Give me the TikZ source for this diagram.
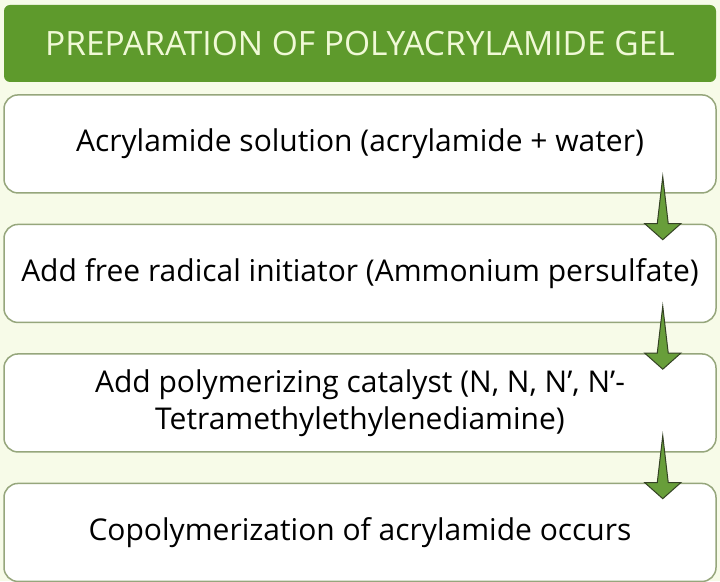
\documentclass[tikz,border=0pt]{standalone}
\usepackage{fontspec}
\setmainfont{Open Sans}
\usetikzlibrary{positioning,calc}
\definecolor{bar-green}{RGB}{94,154,44}
\definecolor{page-cream}{RGB}{247,251,232}
\definecolor{box-edge}{RGB}{150,166,124}
\definecolor{title-cream}{RGB}{240,249,214}
\definecolor{arrow-green}{RGB}{104,158,58}
\definecolor{arrow-edge}{RGB}{52,66,36}
\tikzset{
    title-bar/.style = {fill=bar-green, rounded corners=6pt, minimum width=712pt, minimum height=77pt, text=title-cream, font=\fontsize{33.5}{40}\selectfont},
    step-box/.style = {draw=box-edge, fill=white, line width=1.5pt, rounded corners=14pt, minimum width=712pt, minimum height=98pt, align=center, font=\fontsize{30}{37}\selectfont},
    down-arrow/.style = {draw=arrow-edge, fill=arrow-green, line width=1pt, line join=miter},
}

\begin{document}
\begin{tikzpicture}[x=1pt,y=1pt]
\fill[page-cream] (0,0) rectangle (720,581);
\useasboundingbox (0,0) rectangle (720,581);
\node[title-bar] (title) at (360,537.5) {PREPARATION OF POLYACRYLAMIDE GEL};
\node[step-box, below=12pt of title] (solution) {Acrylamide solution (acrylamide + water)};
\node[step-box, below=30pt of solution] (initiator) {Add free radical initiator (Ammonium persulfate)};
\node[step-box, below=30pt of initiator] (catalyst) {Add polymerizing catalyst (N, N, N’, N’-\\Tetramethylethylenediamine)};
\node[step-box, below=30pt of catalyst] (copolymer) {Copolymerization of acrylamide occurs};
\foreach \from/\to in {solution/initiator, initiator/catalyst, catalyst/copolymer}{
    \coordinate (tail) at ($(\from.south east)+(-54,17)$);
    \coordinate (head) at ($(\to.north east)+(-54,0)$);
    \draw[down-arrow] (tail) -- ($(head)+(5.5,0)$) -- ($(head)+(18,0)$) -- ($(head)+(0,-16)$) -- ($(head)+(-18,0)$) -- ($(head)+(-5.5,0)$) -- cycle;
}
\end{tikzpicture}
\end{document}
